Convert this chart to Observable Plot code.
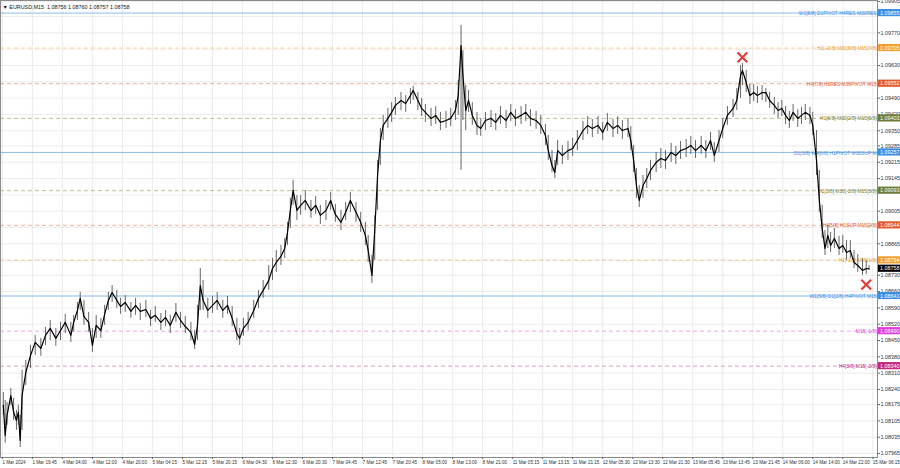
<!DOCTYPE html>
<html><head><meta charset="utf-8">
<script src="https://cdn.jsdelivr.net/npm/d3@7"></script>
<script src="https://cdn.jsdelivr.net/npm/@observablehq/plot@0.6"></script>
<style>
html,body{margin:0;padding:0;background:#fff;}
#chart{width:900px;height:468px;overflow:hidden;}
</style></head><body><div id="chart"></div>
<script>
// ---- data (bar index of M15 samples, prices) ----
const bars = [1,3,5,9,12,15,17,19,21,25,30,35,41,46,51,57,62,67,73,76,80,83,87,92,96,100,105,109,113,117,122,126,131,137,142,147,153,158,163,169,174,179,185,190,195,201,205,208,211,214,219,224,229,235,240,245,250,253,257,262,268,273,278,284,288,292,297,301,304,307,310,314,318,323,329,334,339,345,350,355,361,366,371,377,382,387,390,394,397,400,403,406,411,415,419,425,430,435,438,443,447,451,457,462,467,473,478,483,486,489,491,494,497,501,506,510,515,521,526,531,537,542,547,553,558,563,569,574,579,582,586,589,592,597,603,608,613,619,624,629,635,640,645,651,656,661,667,670,673,676,679,683,687,691,697,702,707,713,718,723,729,734,739,745,750,755,759,764,768,773,779,783,787,789,793,797,801,805,810,814,818,823,827,831,835,839,843,848,852,856,861,864,868,871,874,877,880,883,887,892,896,900,904,908,912,917,921,924];
const close = [1.08172,1.08043,1.08129,1.08214,1.08142,1.08107,1.08142,1.08021,1.08214,1.08313,
1.08386,1.08442,1.08416,1.08472,1.08502,1.08459,1.08493,1.08528,1.08472,1.08528,
1.08579,1.08631,1.08553,1.08528,1.08429,1.08515,1.08493,1.08562,1.08622,1.08656,
1.08622,1.08596,1.08613,1.08575,1.08601,1.08575,1.08583,1.08545,1.08558,1.08528,
1.08549,1.08515,1.08571,1.08536,1.08510,1.08485,1.08433,1.08515,1.08686,1.08622,
1.08579,1.08601,1.08622,1.08579,1.08601,1.08545,1.08480,1.08459,1.08502,1.08528,
1.08579,1.08631,1.08665,1.08708,1.08759,1.08785,1.08811,1.08845,1.08914,1.09008,
1.09094,1.09008,1.09030,1.09051,1.09008,1.09030,1.08987,1.09008,1.09051,1.08991,
1.08957,1.09000,1.09051,1.09000,1.08957,1.08901,1.08836,1.08729,1.08922,1.09158,
1.09308,1.09373,1.09403,1.09429,1.09459,1.09480,1.09467,1.09501,1.09523,1.09480,
1.09446,1.09429,1.09403,1.09416,1.09386,1.09394,1.09403,1.09437,1.09501,1.09716,
1.09587,1.09437,1.09480,1.09416,1.09373,1.09360,1.09394,1.09403,1.09386,1.09416,
1.09394,1.09429,1.09403,1.09416,1.09429,1.09403,1.09394,1.09373,1.09330,1.09265,
1.09201,1.09171,1.09265,1.09244,1.09265,1.09274,1.09308,1.09351,1.09373,1.09360,
1.09373,1.09343,1.09386,1.09360,1.09373,1.09351,1.09360,1.09308,1.09223,1.09115,
1.09051,1.09115,1.09145,1.09180,1.09214,1.09231,1.09223,1.09257,1.09244,1.09265,
1.09274,1.09287,1.09265,1.09287,1.09265,1.09308,1.09244,1.09308,1.09360,1.09416,
1.09446,1.09480,1.09587,1.09609,1.09557,1.09501,1.09514,1.09501,1.09514,1.09514,
1.09480,1.09459,1.09437,1.09446,1.09416,1.09394,1.09429,1.09403,1.09416,1.09429,
1.09416,1.09373,1.09223,1.09051,1.08931,1.08845,1.08901,1.08858,1.08888,1.08845,
1.08858,1.08828,1.08836,1.08785,1.08772,1.08751,1.08759,1.08758];
const high = [1.08227,1.08193,1.08184,1.08244,1.08202,1.08150,1.08172,1.08129,1.08322,1.08365,
1.08429,1.08472,1.08459,1.08506,1.08536,1.08502,1.08528,1.08562,1.08528,1.08558,
1.08613,1.08656,1.08622,1.08571,1.08502,1.08558,1.08545,1.08601,1.08656,1.08686,
1.08665,1.08631,1.08643,1.08613,1.08631,1.08609,1.08622,1.08579,1.08596,1.08566,
1.08579,1.08558,1.08609,1.08571,1.08553,1.08528,1.08493,1.08601,1.08759,1.08708,
1.08631,1.08639,1.08656,1.08622,1.08639,1.08596,1.08545,1.08502,1.08545,1.08571,
1.08622,1.08665,1.08708,1.08772,1.08802,1.08836,1.08858,1.08888,1.08957,1.09060,
1.09137,1.09072,1.09072,1.09094,1.09051,1.09068,1.09030,1.09051,1.09085,1.09034,
1.09008,1.09042,1.09085,1.09042,1.09000,1.08957,1.08901,1.08815,1.08987,1.09223,
1.09360,1.09416,1.09446,1.09471,1.09493,1.09514,1.09501,1.09531,1.09540,1.09514,
1.09489,1.09463,1.09446,1.09454,1.09429,1.09433,1.09446,1.09480,1.09566,1.09802,
1.09694,1.09544,1.09523,1.09471,1.09429,1.09403,1.09429,1.09437,1.09424,1.09454,
1.09437,1.09463,1.09441,1.09454,1.09463,1.09441,1.09433,1.09416,1.09377,1.09330,
1.09265,1.09223,1.09308,1.09287,1.09304,1.09317,1.09351,1.09390,1.09411,1.09398,
1.09411,1.09386,1.09424,1.09398,1.09411,1.09394,1.09403,1.09368,1.09287,1.09188,
1.09115,1.09158,1.09188,1.09223,1.09257,1.09274,1.09265,1.09296,1.09283,1.09304,
1.09313,1.09326,1.09308,1.09326,1.09308,1.09343,1.09300,1.09351,1.09403,1.09454,
1.09484,1.09531,1.09630,1.09639,1.09609,1.09549,1.09549,1.09540,1.09544,1.09531,
1.09514,1.09493,1.09471,1.09480,1.09454,1.09433,1.09463,1.09441,1.09450,1.09463,
1.09450,1.09429,1.09351,1.09180,1.09030,1.08922,1.08944,1.08914,1.08931,1.08897,
1.08901,1.08879,1.08879,1.08836,1.08819,1.08802,1.08794,1.08772];
const low = [1.08129,1.08009,1.08086,1.08172,1.08107,1.08064,1.08086,1.07991,1.08064,1.08257,
1.08330,1.08386,1.08382,1.08429,1.08450,1.08425,1.08450,1.08480,1.08442,1.08485,
1.08536,1.08579,1.08515,1.08485,1.08399,1.08459,1.08459,1.08515,1.08579,1.08613,
1.08588,1.08562,1.08571,1.08545,1.08558,1.08536,1.08549,1.08510,1.08528,1.08493,
1.08510,1.08480,1.08528,1.08502,1.08480,1.08450,1.08412,1.08450,1.08579,1.08579,
1.08545,1.08566,1.08579,1.08545,1.08562,1.08510,1.08450,1.08429,1.08468,1.08493,
1.08545,1.08588,1.08631,1.08665,1.08708,1.08742,1.08772,1.08802,1.08858,1.08931,
1.09030,1.08965,1.08987,1.09008,1.08974,1.08991,1.08948,1.08965,1.09008,1.08957,
1.08922,1.08965,1.09000,1.08957,1.08914,1.08858,1.08785,1.08695,1.08794,1.09008,
1.09201,1.09308,1.09360,1.09386,1.09416,1.09437,1.09429,1.09463,1.09480,1.09437,
1.09411,1.09386,1.09368,1.09377,1.09351,1.09360,1.09368,1.09394,1.09416,1.09180,
1.09394,1.09351,1.09429,1.09373,1.09330,1.09326,1.09351,1.09364,1.09351,1.09377,
1.09360,1.09390,1.09368,1.09377,1.09390,1.09368,1.09356,1.09334,1.09287,1.09223,
1.09171,1.09145,1.09201,1.09205,1.09223,1.09240,1.09265,1.09308,1.09334,1.09321,
1.09334,1.09308,1.09347,1.09321,1.09334,1.09313,1.09321,1.09265,1.09171,1.09060,
1.09021,1.09060,1.09102,1.09137,1.09171,1.09188,1.09184,1.09214,1.09205,1.09227,
1.09235,1.09248,1.09231,1.09248,1.09231,1.09265,1.09214,1.09257,1.09317,1.09373,
1.09407,1.09437,1.09489,1.09544,1.09514,1.09463,1.09476,1.09467,1.09480,1.09471,
1.09446,1.09420,1.09403,1.09411,1.09377,1.09360,1.09390,1.09364,1.09377,1.09394,
1.09377,1.09330,1.09158,1.09000,1.08888,1.08815,1.08845,1.08828,1.08845,1.08815,
1.08824,1.08794,1.08802,1.08759,1.08742,1.08729,1.08734,1.08751];

const timeLabels = ["1 Mar 2024","1 Mar 19:45","4 Mar 04:00","4 Mar 12:00","4 Mar 20:00","5 Mar 04:15","5 Mar 12:15","5 Mar 20:15","6 Mar 04:30","6 Mar 12:30","6 Mar 20:30","7 Mar 04:45","7 Mar 12:45","7 Mar 20:45","8 Mar 05:00","8 Mar 13:00","8 Mar 21:00","11 Mar 05:15","11 Mar 13:15","11 Mar 21:15","12 Mar 05:30","12 Mar 13:30","12 Mar 21:30","13 Mar 05:45","13 Mar 13:45","13 Mar 21:45","14 Mar 06:00","14 Mar 14:00","14 Mar 22:00","15 Mar 06:15"];
const timeTickBars = [0,32,64,96,128,160,192,224,256,288,320,352,384,416,448,480,512,544,576,608,640,672,704,736,768,800,832,864,896,928];
// all price grid steps; the labels hidden behind level boxes are left out of the label list
const priceGrid = [1.09905,1.09840,1.09770,1.09700,1.09630,1.09560,1.09490,1.09420,1.09350,1.09285,1.09215,1.09145,1.09075,1.09005,1.08935,1.08865,1.08795,1.08730,1.08660,1.08590,1.08520,1.08450,1.08380,1.08310,1.08240,1.08175,1.08105,1.08035,1.07965];
const priceLabels = [1.09905,1.09770,1.09630,1.09490,1.09420,1.09350,1.09285,1.09215,1.09145,1.09005,1.08865,1.08730,1.08660,1.08590,1.08520,1.08450,1.08380,1.08310,1.08240,1.08175,1.08105,1.08035,1.07965];

const levelPrices = [1.09855,1.09705,1.09552,1.09403,1.09257,1.09093,1.08944,1.08794,1.08641,1.08490,1.08340];
// text as it is visible left of the price scale (the three long ones are cut by the scale)
const levelTexts = ["W1[8/8] D1PIVOT H4RES M30RES","H1[+2/8] M30[8/8] M15[7/8]","H4[7/8] H1RES M30PIVOT M15","H1[6/8] M30[2/8] M15[5/8]","D1[3/8] W4[6/8] H1PIVOT M30SUP M","H1[2/8] M30[-2/8] M15[3/8]","H4[5/8] H1SUP M15[2/8]","H1[-2/8] M15[1/8]","W1[5/8] D1[2/8] H4PIVOT M15","M15[-1/8]","H4[3/8] M15[-2/8]"];
const levelGroups = ["pivot","h1","h4","m30","pivot","m30","h4","h1","pivot","m15","h4m15"];

const symbolName = "EURUSD,M15";
const lastOHLC = [1.08756, 1.08760, 1.08757, 1.08758];
const lastPrice = 1.08758;
const markerBars = [789, 921];
const markerPrices = [1.09665, 1.08690];

// ---- build tables ----
const rows = bars.map((b, i) => ({bar: b, close: close[i], high: high[i], low: low[i]}));
const levels = levelPrices.map((p, i) => ({price: p, text: levelTexts[i], group: levelGroups[i], i}));
const markers = markerBars.map((b, i) => ({bar: b, price: markerPrices[i]}));
const xMax = 933;
const FONT = "Liberation Sans, Arial, sans-serif";
const NARROW = "Liberation Sans Narrow, Arial Narrow, Liberation Sans, sans-serif";

const colorDomain = ["pivot","h1","h4","m30","m15","h4m15"];
const colorRange  = ["#3a8fe0","#f0a030","#e45a2a","#6d7e3a","#dd3ee0","#c4287f"];

const chart = Plot.plot({
  width: 900, height: 468,
  marginLeft: 0, marginRight: 23, marginTop: 0, marginBottom: 11,
  style: {fontFamily: FONT, background: "#fff", color: "#222"},
  x: {domain: [-2, xMax], label: null},
  y: {domain: [1.07948, 1.09909], label: null},
  color: {domain: colorDomain, range: colorRange},
  marks: [
    Plot.gridY(priceGrid, {stroke: "#e4e4e4", strokeOpacity: 1, strokeWidth: 0.7}),
    Plot.gridX(timeTickBars, {stroke: "#e4e4e4", strokeOpacity: 1, strokeWidth: 0.7}),
    Plot.ruleY(levels.filter(d => d.group === "pivot"), {y: "price", stroke: "group", strokeOpacity: 0.75, strokeWidth: 0.8}),
    Plot.ruleY(levels.filter(d => d.group !== "pivot"), {y: "price", stroke: "group", strokeOpacity: 0.6, strokeWidth: 0.8, strokeDasharray: "4,3"}),
    Plot.text(levels, {x: () => xMax, y: "price", text: "text", fill: "group", textAnchor: "end", dx: -1, dy: 0.5, fontSize: 4.9}),
    Plot.ruleX(rows, {x: "bar", y1: "low", y2: "high", stroke: "#666", strokeWidth: 1, clip: true}),
    Plot.lineY(rows, {x: "bar", y: "close", stroke: "#000", strokeWidth: 1.2, clip: true}),
    Plot.dot(markers, {x: "bar", y: "price", symbol: "times", r: 4.5, stroke: "#e23c3c", strokeWidth: 2.2}),
    Plot.text([`\u25BC ${symbolName}  ${lastOHLC.map(v => v.toFixed(5)).join(" ")}`], {frameAnchor: "top-left", dx: 2, dy: 5, fontSize: 5.4, textAnchor: "start", fill: "#111"}),
    Plot.frame({stroke: "#8a8a8a"}),
    Plot.axisY(priceLabels, {anchor: "right", label: null, tickSize: 2, tickPadding: 1, tickFormat: d => d.toFixed(5), fontSize: 5.4, fill: "#333", stroke: "#666"}),
    Plot.axisX(timeTickBars, {anchor: "bottom", label: null, tickSize: 2, tickPadding: 1, tickFormat: d => timeLabels[timeTickBars.indexOf(d)], textAnchor: "start", dx: 0, fontSize: 4.6, fontFamily: NARROW, fill: "#333", stroke: "#666"}),
    Plot.rect(levels, {x1: () => xMax, x2: () => xMax, y1: "price", y2: "price", fill: "group", insetLeft: 1, insetRight: -23, insetTop: -3.6, insetBottom: -3.6}),
    Plot.text(levels, {x: () => xMax, y: "price", text: d => d.price.toFixed(5), fill: "#fff", textAnchor: "start", dx: 2.5, fontSize: 5.4}),
    Plot.rect([lastPrice], {x1: () => xMax, x2: () => xMax, y1: d => d, y2: d => d, fill: "#000", insetLeft: 1, insetRight: -23, insetTop: -3.6, insetBottom: -3.6}),
    Plot.text([lastPrice], {x: () => xMax, y: d => d, text: d => d.toFixed(5), fill: "#fff", textAnchor: "start", dx: 2.5, fontSize: 5.4})
  ]
});
document.getElementById("chart").appendChild(chart);
</script>
</body></html>
